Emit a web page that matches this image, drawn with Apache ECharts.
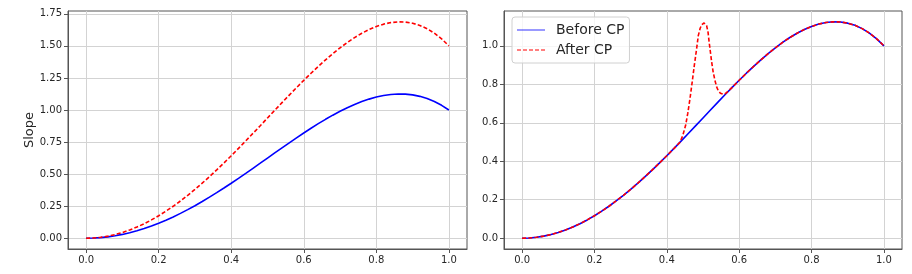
<!DOCTYPE html>
<html>
<head>
<meta charset="utf-8">
<script src="https://cdn.jsdelivr.net/npm/echarts@6/dist/echarts.min.js"></script>
<style>
html,body{margin:0;padding:0;background:#fff;}
#chart{width:912px;height:274px;}
</style>
</head>
<body>
<div id="chart"></div>
<script>
// ---- data ----
const xs = [0,0.02,0.04,0.06,0.08,0.10,0.12,0.14,0.16,0.18,0.20,0.22,0.24,0.26,0.28,0.30,0.32,0.34,0.36,0.38,0.40,0.42,0.44,0.46,0.48,0.50,0.52,0.54,0.56,0.58,0.60,0.62,0.64,0.66,0.68,0.70,0.72,0.74,0.76,0.78,0.80,0.82,0.84,0.86,0.88,0.90,0.92,0.94,0.96,0.98,1.00];
const beforeCP = [0,0.0012,0.0048,0.0108,0.0191,0.0298,0.0428,0.0580,0.0755,0.0951,0.1168,0.1405,0.1662,0.1937,0.2229,0.2538,0.2862,0.3201,0.3552,0.3915,0.4288,0.4670,0.5058,0.5453,0.5850,0.6250,0.6650,0.7047,0.7441,0.7829,0.8208,0.8577,0.8933,0.9273,0.9596,0.9898,1.0177,1.0431,1.0656,1.0849,1.1008,1.1130,1.1211,1.1248,1.1238,1.1178,1.1064,1.0893,1.0661,1.0365,1.0000];
const afterCPLeft = [0,0.0018,0.0072,0.0162,0.0287,0.0447,0.0642,0.0870,0.1132,0.1427,0.1752,0.2108,0.2492,0.2905,0.3344,0.3807,0.4293,0.4801,0.5328,0.5873,0.6432,0.7005,0.7588,0.8179,0.8775,0.9375,0.9975,1.0571,1.1162,1.1743,1.2312,1.2865,1.3399,1.3910,1.4394,1.4847,1.5266,1.5646,1.5983,1.6274,1.6512,1.6694,1.6816,1.6872,1.6857,1.6767,1.6596,1.6340,1.5992,1.5547,1.5000];
const afterCPRightX = [0,0.02,0.04,0.06,0.08,0.10,0.12,0.14,0.16,0.18,0.20,0.22,0.24,0.26,0.28,0.30,0.32,0.34,0.36,0.38,0.40,0.42,0.436,0.444,0.452,0.458,0.464,0.470,0.476,0.482,0.487,0.492,0.496,0.500,0.503,0.506,0.510,0.514,0.517,0.521,0.524,0.528,0.533,0.538,0.542,0.548,0.556,0.562,0.569,0.58,0.60,0.62,0.64,0.66,0.68,0.70,0.72,0.74,0.76,0.78,0.80,0.82,0.84,0.86,0.88,0.90,0.92,0.94,0.96,0.98,1.00];
const afterCPRightY = [0,0.0012,0.0048,0.0108,0.0191,0.0298,0.0428,0.0580,0.0755,0.0951,0.1168,0.1405,0.1662,0.1937,0.2229,0.2538,0.2862,0.3201,0.3552,0.3915,0.4288,0.4670,0.498,0.533,0.587,0.650,0.725,0.810,0.898,0.980,1.053,1.090,1.109,1.117,1.119,1.115,1.105,1.070,1.019,0.960,0.915,0.865,0.820,0.785,0.768,0.754,0.748,0.752,0.763,0.7829,0.8208,0.8577,0.8933,0.9273,0.9596,0.9898,1.0177,1.0431,1.0656,1.0849,1.1008,1.1130,1.1211,1.1248,1.1238,1.1178,1.1064,1.0893,1.0661,1.0365,1.0000];
const xTicks = [0,0.2,0.4,0.6,0.8,1.0];
const leftYTicks = [0,0.25,0.5,0.75,1.0,1.25,1.5,1.75];
const rightYTicks = [0,0.2,0.4,0.6,0.8,1.0];
const legendNames = ['Before CP','After CP'];

const FONT = 'DejaVu Sans';
const SPINE = '#555555';
const GRIDC = '#d3d3d3';
const TXT = '#262626';

function xAxisCfg(gi){
  return {
    type:'value', gridIndex:gi, min:-0.05, max:1.05,
    axisLine:{show:true, onZero:false, lineStyle:{color:SPINE, width:1}},
    axisTick:{show:true, customValues:xTicks, length:4, lineStyle:{color:SPINE}},
    axisLabel:{customValues:xTicks, formatter:v=>v.toFixed(1), fontSize:10, fontFamily:FONT, color:TXT, margin:6},
    splitLine:{show:true, lineStyle:{color:GRIDC, width:1}}
  };
}
function yAxisCfg(gi, min, max, ticks, dec, extra){
  return Object.assign({
    type:'value', gridIndex:gi, min:min, max:max,
    axisLine:{show:true, onZero:false, lineStyle:{color:SPINE, width:1}},
    axisTick:{show:true, customValues:ticks, length:4, lineStyle:{color:SPINE}},
    axisLabel:{customValues:ticks, formatter:v=>v.toFixed(dec), fontSize:10, fontFamily:FONT, color:TXT, margin:6},
    splitLine:{show:true, lineStyle:{color:GRIDC, width:1}}
  }, extra||{});
}
const pairs = (X,Y)=>X.map((x,i)=>[x,Y[i]]);

// legend icons (28 x 2 box)
const solidIcon = 'rect';
const dashedIcon = 'path://M0,0L28,0L28,0.01L0,0.01Z M0,0.5h4v1h-4Z M6,0.5h4v1h-4Z M12,0.5h4v1h-4Z M18,0.5h4v1h-4Z M24,0.5h4v1h-4Z M0,1.99L28,1.99L28,2L0,2Z';

const chart = echarts.init(document.getElementById('chart'), null, {renderer:'canvas'});
chart.setOption({
  animation:false,
  backgroundColor:'#ffffff',
  grid:[
    {left:68, top:11, width:399, height:238, show:true, borderColor:SPINE, borderWidth:1, backgroundColor:'transparent'},
    {left:504, top:11, width:398, height:238, show:true, borderColor:SPINE, borderWidth:1, backgroundColor:'transparent'}
  ],
  xAxis:[xAxisCfg(0), xAxisCfg(1)],
  yAxis:[
    yAxisCfg(0, -0.084, 1.772, leftYTicks, 2, {name:'Slope', nameLocation:'middle', nameRotate:90, nameGap:31, nameTextStyle:{fontSize:13, fontFamily:FONT, color:TXT}}),
    yAxisCfg(1, -0.056, 1.181, rightYTicks, 1)
  ],
  legend:{
    show:true, selectedMode:false, orient:'vertical', left:512, top:17,
    padding:[6,5,6,5], itemGap:6, itemWidth:28, itemHeight:2,
    backgroundColor:'rgba(255,255,255,0.8)', borderColor:'#d0d0d0', borderWidth:1, borderRadius:3,
    itemStyle:{borderWidth:0},
    textStyle:{fontSize:14, fontFamily:FONT, color:TXT, padding:[0,0,0,6]},
    data:[
      {name:legendNames[0], icon:solidIcon, itemStyle:{color:'rgba(0,0,255,0.4)', borderWidth:0}},
      {name:legendNames[1], icon:dashedIcon, itemStyle:{color:'#ff0000', borderWidth:0}}
    ]
  },
  series:[
    {name:legendNames[0], type:'line', xAxisIndex:0, yAxisIndex:0, data:pairs(xs,beforeCP), symbol:'none', lineStyle:{color:'#0000ff', width:1.6}, itemStyle:{color:'#0000ff'}, z:2},
    {name:legendNames[1], type:'line', xAxisIndex:0, yAxisIndex:0, data:pairs(xs,afterCPLeft), symbol:'none', lineStyle:{color:'#ff0000', width:1.6, type:[4,2.2]}, itemStyle:{color:'#ff0000'}, z:3},
    {name:legendNames[0], type:'line', xAxisIndex:1, yAxisIndex:1, data:pairs(xs,beforeCP), symbol:'none', lineStyle:{color:'#0000ff', width:1.6}, itemStyle:{color:'#0000ff'}, z:2},
    {name:legendNames[1], type:'line', xAxisIndex:1, yAxisIndex:1, data:pairs(afterCPRightX,afterCPRightY), symbol:'none', lineStyle:{color:'#ff0000', width:1.6, type:[4,2.2]}, itemStyle:{color:'#ff0000'}, z:3}
  ]
});
</script>
</body>
</html>
